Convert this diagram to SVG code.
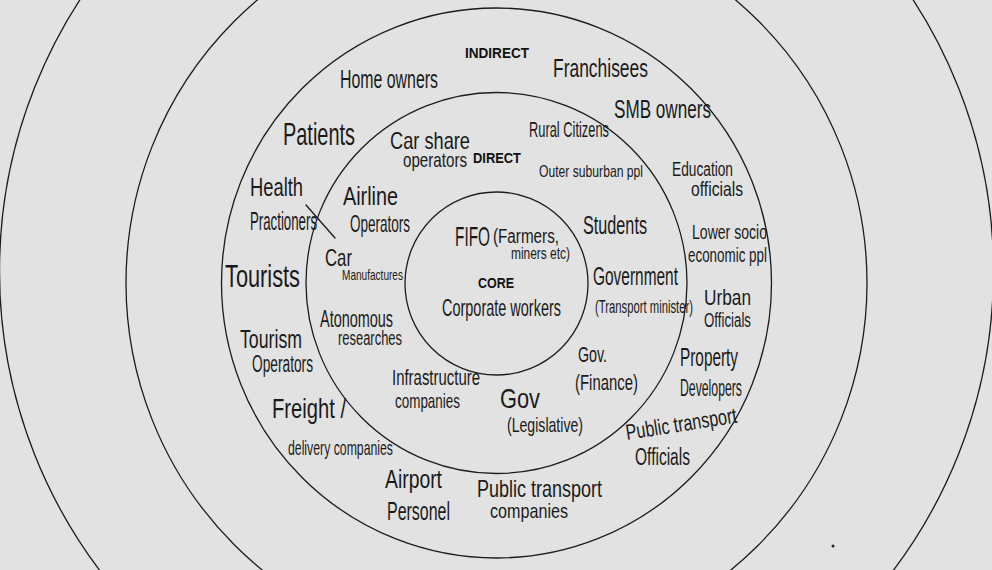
<svg xmlns="http://www.w3.org/2000/svg" width="992" height="570" viewBox="0 0 992 570">
  <style>
    .ring { fill: none; stroke: #1c1c1c; stroke-width: 1.3; }
    .hw { font-family: "Liberation Sans", Arial, sans-serif; fill: #1a1a1a; font-weight: normal; }
    .tag { font-family: "Liberation Sans", Arial, sans-serif; font-weight: bold; font-size: 14px; fill: #111; text-anchor: middle; }
    .pen { fill: none; stroke: #1a1a1a; stroke-width: 1.3; stroke-linecap: round; }
  </style>
  <rect width="992" height="570" fill="#e2e2e2"/>

  <!-- outer context rings -->
  <g id="ring-outer">
    <circle class="ring" cx="496.5" cy="271" r="497"/>
    <circle class="ring" cx="496.5" cy="283" r="370.5"/>
  </g>

  <!-- indirect stakeholders -->
  <g id="indirect">
    <circle class="ring" cx="496.5" cy="283" r="275"/>
    <text class="tag" x="497" y="58" textLength="64" lengthAdjust="spacingAndGlyphs">INDIRECT</text>
    <text class="hw" x="340" y="88" font-size="26" textLength="98" lengthAdjust="spacingAndGlyphs">Home owners</text>
    <text class="hw" x="553" y="77" font-size="26" textLength="95" lengthAdjust="spacingAndGlyphs">Franchisees</text>
    <text class="hw" x="614" y="118" font-size="26" textLength="97" lengthAdjust="spacingAndGlyphs">SMB owners</text>
    <text class="hw" x="283" y="145" font-size="32" textLength="72" lengthAdjust="spacingAndGlyphs">Patients</text>
    <text class="hw" x="672" y="176" font-size="20" textLength="61" lengthAdjust="spacingAndGlyphs">Education</text>
    <text class="hw" x="691" y="196" font-size="21" textLength="52" lengthAdjust="spacingAndGlyphs">officials</text>
    <text class="hw" x="250" y="196" font-size="25" textLength="53" lengthAdjust="spacingAndGlyphs">Health</text>
    <text class="hw" x="250" y="230" font-size="26" textLength="67" lengthAdjust="spacingAndGlyphs">Practioners</text>
    <path class="pen" d="M306 205 L335 238"/>
    <text class="hw" x="692" y="239" font-size="21" textLength="75" lengthAdjust="spacingAndGlyphs">Lower socio</text>
    <text class="hw" x="688" y="262" font-size="21" textLength="79" lengthAdjust="spacingAndGlyphs">economic ppl</text>
    <text class="hw" x="225" y="287" font-size="32" textLength="75" lengthAdjust="spacingAndGlyphs">Tourists</text>
    <text class="hw" x="704" y="305" font-size="22" textLength="47" lengthAdjust="spacingAndGlyphs">Urban</text>
    <text class="hw" x="704" y="327" font-size="20" textLength="47" lengthAdjust="spacingAndGlyphs">Officials</text>
    <text class="hw" x="240" y="348" font-size="25" textLength="62" lengthAdjust="spacingAndGlyphs">Tourism</text>
    <text class="hw" x="252" y="372" font-size="23" textLength="61" lengthAdjust="spacingAndGlyphs">Operators</text>
    <text class="hw" x="680" y="366" font-size="25" textLength="58" lengthAdjust="spacingAndGlyphs">Property</text>
    <text class="hw" x="680" y="396" font-size="24" textLength="62" lengthAdjust="spacingAndGlyphs">Developers</text>
    <text class="hw" x="272" y="418" font-size="28" textLength="74" lengthAdjust="spacingAndGlyphs">Freight /</text>
    <text class="hw" x="288" y="455" font-size="21" textLength="105" lengthAdjust="spacingAndGlyphs">delivery companies</text>
    <text class="hw" x="627" y="440" font-size="22" textLength="112" lengthAdjust="spacingAndGlyphs" transform="rotate(-9 627 440)">Public transport</text>
    <text class="hw" x="635" y="465" font-size="23" textLength="55" lengthAdjust="spacingAndGlyphs">Officials</text>
    <text class="hw" x="385" y="488" font-size="26" textLength="57" lengthAdjust="spacingAndGlyphs">Airport</text>
    <text class="hw" x="387" y="520" font-size="26" textLength="63" lengthAdjust="spacingAndGlyphs">Personel</text>
    <text class="hw" x="477" y="497" font-size="24" textLength="125" lengthAdjust="spacingAndGlyphs">Public transport</text>
    <text class="hw" x="490" y="518" font-size="21" textLength="78" lengthAdjust="spacingAndGlyphs">companies</text>
  </g>

  <!-- direct stakeholders -->
  <g id="direct">
    <circle class="ring" cx="496.5" cy="283" r="190.5"/>
    <text class="tag" x="497" y="163" textLength="48" lengthAdjust="spacingAndGlyphs">DIRECT</text>
    <text class="hw" x="390" y="149" font-size="24" textLength="80" lengthAdjust="spacingAndGlyphs">Car share</text>
    <text class="hw" x="403" y="167" font-size="21" textLength="64" lengthAdjust="spacingAndGlyphs">operators</text>
    <text class="hw" x="529" y="137" font-size="22" textLength="80" lengthAdjust="spacingAndGlyphs">Rural Citizens</text>
    <text class="hw" x="539" y="177" font-size="17" textLength="104" lengthAdjust="spacingAndGlyphs">Outer suburban ppl</text>
    <text class="hw" x="343" y="205" font-size="26" textLength="55" lengthAdjust="spacingAndGlyphs">Airline</text>
    <text class="hw" x="350" y="232" font-size="24" textLength="60" lengthAdjust="spacingAndGlyphs">Operators</text>
    <text class="hw" x="583" y="234" font-size="26" textLength="64" lengthAdjust="spacingAndGlyphs">Students</text>
    <text class="hw" x="325" y="266" font-size="24" textLength="27" lengthAdjust="spacingAndGlyphs">Car</text>
    <text class="hw" x="342" y="280" font-size="15" textLength="61" lengthAdjust="spacingAndGlyphs">Manufactures</text>
    <text class="hw" x="593" y="285" font-size="26" textLength="85" lengthAdjust="spacingAndGlyphs">Government</text>
    <text class="hw" x="595" y="313" font-size="18" textLength="98" lengthAdjust="spacingAndGlyphs">(Transport minister)</text>
    <text class="hw" x="320" y="327" font-size="24" textLength="73" lengthAdjust="spacingAndGlyphs">Atonomous</text>
    <text class="hw" x="338" y="345" font-size="20" textLength="64" lengthAdjust="spacingAndGlyphs">researches</text>
    <text class="hw" x="578" y="362" font-size="22" textLength="29" lengthAdjust="spacingAndGlyphs">Gov.</text>
    <text class="hw" x="575" y="390" font-size="22" textLength="63" lengthAdjust="spacingAndGlyphs">(Finance)</text>
    <text class="hw" x="392" y="385" font-size="22" textLength="88" lengthAdjust="spacingAndGlyphs">Infrastructure</text>
    <text class="hw" x="395" y="408" font-size="21" textLength="65" lengthAdjust="spacingAndGlyphs">companies</text>
    <text class="hw" x="500" y="408" font-size="28" textLength="40" lengthAdjust="spacingAndGlyphs">Gov</text>
    <text class="hw" x="507" y="432" font-size="21" textLength="76" lengthAdjust="spacingAndGlyphs">(Legislative)</text>
  </g>

  <!-- core stakeholders -->
  <g id="core">
    <circle class="ring" cx="496.5" cy="283.5" r="91.5"/>
    <text class="hw" x="455" y="246" font-size="28" textLength="35" lengthAdjust="spacingAndGlyphs">FIFO</text>
    <text class="hw" x="493" y="243" font-size="20" textLength="66" lengthAdjust="spacingAndGlyphs">(Farmers,</text>
    <text class="hw" x="511" y="259" font-size="17" textLength="59" lengthAdjust="spacingAndGlyphs">miners etc)</text>
    <text class="tag" x="496" y="288" textLength="36" lengthAdjust="spacingAndGlyphs">CORE</text>
    <text class="hw" x="442" y="316" font-size="24" textLength="119" lengthAdjust="spacingAndGlyphs">Corporate workers</text>
  </g>

  <!-- stray pen mark -->
  <circle cx="833" cy="546" r="1.5" fill="#222"/>
</svg>
